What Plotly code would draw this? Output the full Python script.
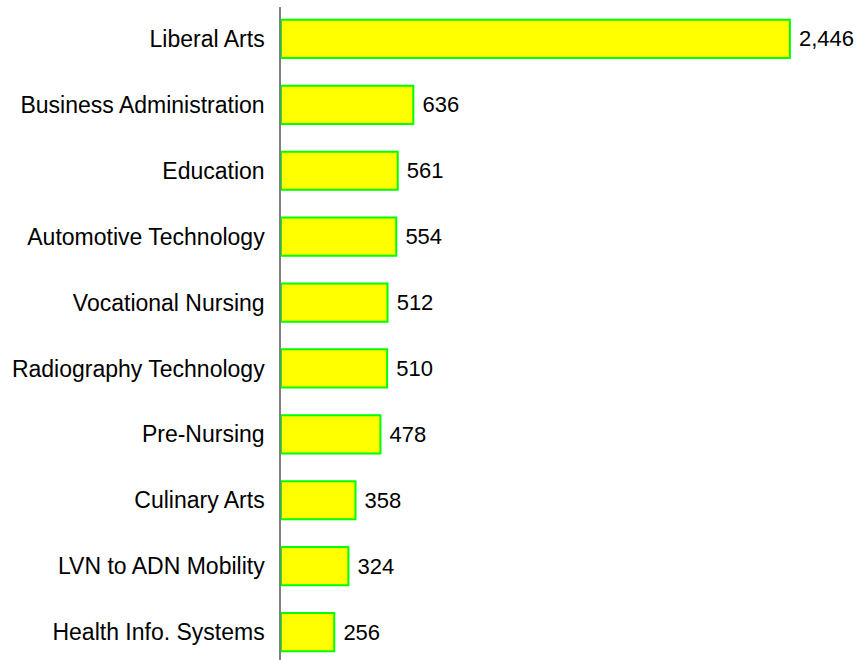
import plotly.graph_objects as go

categories = ["Liberal Arts", "Business Administration", "Education", "Automotive Technology",
              "Vocational Nursing", "Radiography Technology", "Pre-Nursing", "Culinary Arts",
              "LVN to ADN Mobility", "Health Info. Systems"]
values = [2446, 636, 561, 554, 512, 510, 478, 358, 324, 256]

FONT = "Liberation Sans, Arial, sans-serif"

fig = go.Figure(go.Bar(
    x=values, y=categories, orientation="h",
    marker=dict(color="#FFFF00", line=dict(color="#00FF00", width=2)),
    width=0.58,
    texttemplate=" %{x:,}", textposition="outside", cliponaxis=False,
    textfont=dict(family=FONT, size=22, color="#000000"),
))

fig.update_layout(
    width=860, height=660,
    margin=dict(l=281, r=0, t=7, b=0),
    paper_bgcolor="white", plot_bgcolor="white",
    showlegend=False,
    font=dict(family=FONT, size=23, color="#000000"),
    xaxis=dict(range=[0, 2783], visible=False, showgrid=False, zeroline=False),
    yaxis=dict(range=[9.424, -0.485], type="category", showline=True, linecolor="#808080",
               linewidth=1.5, showgrid=False, zeroline=False, ticks="",
               ticklabelstandoff=10, tickfont=dict(size=23)),
)

fig.write_html(
    "out.html",
    config={"displayModeBar": False},
    post_script="document.body.style.margin='0';document.body.style.overflow='hidden';",
)
